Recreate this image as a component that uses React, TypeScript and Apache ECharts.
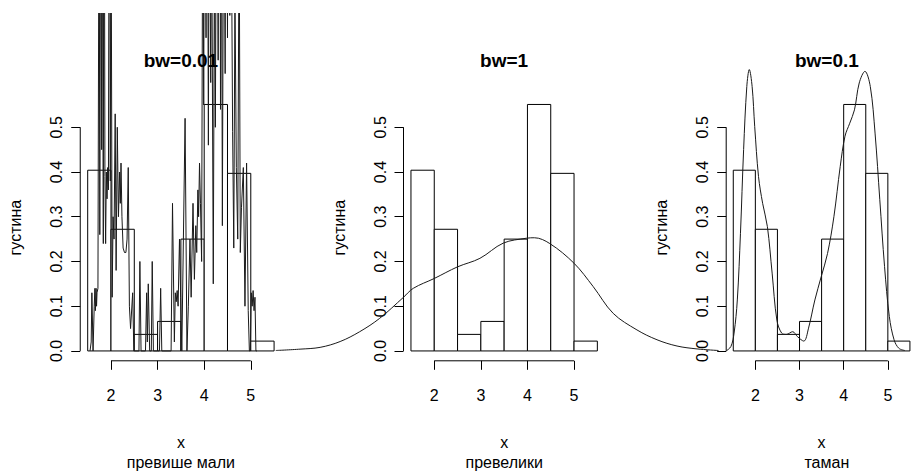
import React, { useEffect, useRef } from "react";
import * as echarts from "echarts";

// ---------- data ----------
const breaks = [1.5, 2.0, 2.5, 3.0, 3.5, 4.0, 4.5, 5.0, 5.5];
const histDensity = [0.404, 0.272, 0.037, 0.066, 0.25, 0.551, 0.397, 0.022];
const xTicks = [2, 3, 4, 5];
const yTicks = [0, 0.1, 0.2, 0.3, 0.4, 0.5];
const panelTitles = ["bw=0.01", "bw=1", "bw=0.1"];
const panelSubtitles = ["превише мали", "превелики", "таман"];
const xName = "x";
const yName = "густина";

// density, bw = 0.01 (peaks above ~0.75 run off the top of the picture)
const densityBw001: [number, number][] = [
  [1.55, 0.0], [1.575, 0.02], [1.59, 0.13], [1.615, 0.0], [1.625, 0.0], [1.64, 0.1],
  [1.655, 0.14], [1.665, 0.09], [1.68, 0.14], [1.69, 0.1], [1.70, 0.13], [1.72, 0.14],
  [1.745, 1.2], [1.76, 0.26], [1.78, 1.3], [1.80, 0.45], [1.815, 1.1], [1.835, 0.24],
  [1.85, 1.5], [1.87, 0.39], [1.885, 0.24], [1.90, 0.4], [1.915, 0.34], [1.93, 0.41],
  [1.945, 0.36], [1.965, 1.4], [1.985, 0.38], [2.0, 1.1], [2.025, 0.12], [2.045, 0.3],
  [2.065, 0.25], [2.09, 0.53], [2.11, 0.18], [2.135, 0.5], [2.16, 0.3], [2.185, 0.4],
  [2.2, 0.33], [2.215, 0.42], [2.235, 0.3], [2.26, 0.23], [2.29, 0.22], [2.32, 0.22],
  [2.345, 0.25], [2.37, 0.41], [2.395, 0.1], [2.42, 0.05], [2.465, 0.13], [2.49, 0.0],
  [2.6, 0.0], [2.62, 0.2], [2.645, 0.0], [2.74, 0.0], [2.765, 0.13], [2.78, 0.02],
  [2.8, 0.15], [2.83, 0.0], [2.865, 0.0], [2.885, 0.2], [2.91, 0.0], [3.04, 0.0],
  [3.066, 0.14], [3.09, 0.0], [3.29, 0.0], [3.32, 0.33], [3.36, 0.02], [3.38, 0.13],
  [3.4, 0.11], [3.42, 0.135], [3.44, 0.1], [3.47, 0.25], [3.495, 0.12], [3.52, 0.0],
  [3.59, 0.52], [3.63, 0.0], [3.66, 0.1], [3.695, 0.25], [3.72, 0.12], [3.76, 0.33],
  [3.79, 0.16], [3.82, 0.28], [3.84, 0.22], [3.865, 0.36], [3.88, 0.3], [3.9, 0.42],
  [3.92, 0.33], [3.945, 0.2], [3.97, 1.1], [3.99, 0.55], [4.01, 1.3], [4.04, 0.7],
  [4.06, 1.5], [4.09, 0.46], [4.11, 1.2], [4.14, 0.6], [4.16, 1.0], [4.195, 0.15],
  [4.22, 0.9], [4.24, 0.5], [4.27, 1.3], [4.3, 0.65], [4.33, 1.6], [4.35, 0.54],
  [4.37, 1.1], [4.39, 0.28], [4.42, 1.2], [4.45, 0.62], [4.47, 1.4], [4.5, 0.7],
  [4.52, 1.5], [4.55, 0.75], [4.58, 1.0], [4.61, 0.49], [4.635, 0.23], [4.66, 0.8],
  [4.69, 0.41], [4.72, 0.25], [4.75, 1.0], [4.775, 0.22], [4.8, 0.32], [4.84, 0.41],
  [4.875, 0.1], [4.91, 0.42], [4.945, 0.09], [4.97, 0.0], [4.99, 0.0], [5.01, 0.13],
  [5.03, 0.1], [5.05, 0.135], [5.07, 0.09], [5.09, 0.12], [5.11, 0.0], [5.13, 0.0],
];

// density, bw = 1
const densityBw1: [number, number][] = [
  [-1.4, 0.001], [-0.88, 0.004], [-0.45, 0.008], [-0.02, 0.021], [0.4, 0.043],
  [0.83, 0.073], [1.34, 0.12], [1.55, 0.14], [2.0, 0.162], [2.5, 0.188], [2.98, 0.207],
  [3.48, 0.241], [3.98, 0.252], [4.15, 0.253], [4.48, 0.24], [5.0, 0.196], [5.41, 0.144],
  [5.84, 0.084], [6.35, 0.047], [6.78, 0.025], [7.21, 0.011], [7.64, 0.0045], [8.1, 0.001],
];

// density, bw = 0.1
const densityBw01: [number, number][] = [
  [1.357, 0.0], [1.464, 0.01], [1.535, 0.04], [1.608, 0.114], [1.679, 0.263], [1.75, 0.45],
  [1.822, 0.591], [1.878, 0.629], [1.942, 0.591], [2.0, 0.502], [2.086, 0.39], [2.179, 0.33],
  [2.286, 0.278], [2.393, 0.174], [2.5, 0.069], [2.607, 0.04], [2.714, 0.037], [2.857, 0.043],
  [2.964, 0.032], [3.107, 0.022], [3.214, 0.051], [3.357, 0.114], [3.5, 0.166], [3.643, 0.218],
  [3.786, 0.3], [3.928, 0.412], [4.036, 0.48], [4.143, 0.509], [4.25, 0.539], [4.357, 0.599],
  [4.486, 0.625], [4.607, 0.591], [4.714, 0.487], [4.821, 0.338], [4.928, 0.189], [5.036, 0.077],
  [5.143, 0.025], [5.25, 0.006], [5.386, 0.001],
];

const densities = [densityBw001, densityBw1, densityBw01];
const smoothFlags = [false, 0.35, 0.35];

// ---------- layout ----------
const FONT = "'Liberation Sans', Arial, sans-serif";
const TOP_OFFSET = 13;
const gridLefts = [80.24, 403.5, 726.2];
const gridTop = 81.6;
const gridWidth = 201.3;
const gridHeight = 266.2;

export default function App() {
  const ref = useRef<HTMLDivElement>(null);

  useEffect(() => {
    if (!ref.current) return;
    const chart = echarts.init(ref.current, undefined, { renderer: "svg" });

    const xPad = (breaks[breaks.length - 1] - breaks[0]) * 0.04;
    const xMin = breaks[0] - xPad;
    const xMax = breaks[breaks.length - 1] + xPad;
    const maxD = Math.max(...histDensity);
    const yMin = -maxD * 0.04;
    const yMax = maxD * 1.04;
    const pxPerUnit = gridWidth / (xMax - xMin);

    const grids: any[] = [];
    const xAxes: any[] = [];
    const yAxes: any[] = [];
    const series: any[] = [];
    const graphics: any[] = [];

    const textStyle = { fontSize: 16, color: "#000", fontFamily: FONT };

    for (let i = 0; i < 3; i++) {
      grids.push({ left: gridLefts[i], top: gridTop, width: gridWidth, height: gridHeight });
      xAxes.push({
        gridIndex: i,
        type: "value",
        min: xMin,
        max: xMax,
        axisLine: { show: false, onZero: false },
        splitLine: { show: false },
        axisTick: { show: true, customValues: xTicks, length: 9, lineStyle: { color: "#000", width: 1 } },
        axisLabel: { customValues: xTicks, margin: 27, ...textStyle, formatter: (v: number) => String(v) },
        name: xName,
        nameLocation: "middle",
        nameGap: 74,
        nameTextStyle: textStyle,
      });
      yAxes.push({
        gridIndex: i,
        type: "value",
        min: yMin,
        max: yMax,
        axisLine: { show: false, onZero: false },
        splitLine: { show: false },
        axisTick: { show: true, customValues: yTicks, length: 9, lineStyle: { color: "#000", width: 1 } },
        axisLabel: {
          customValues: yTicks,
          rotate: 90,
          margin: 15.5,
          ...textStyle,
          formatter: (v: number) => v.toFixed(1),
        },
        name: yName,
        nameLocation: "middle",
        nameGap: 56.4,
        nameTextStyle: textStyle,
      });

      // histogram
      series.push({
        type: "custom",
        xAxisIndex: i,
        yAxisIndex: i,
        z: 2,
        silent: true,
        encode: { x: [0, 1], y: 2 },
        data: histDensity.map((d, j) => [breaks[j], breaks[j + 1], d]),
        renderItem: (_p: any, api: any) => {
          const p0 = api.coord([api.value(0), api.value(2)]);
          const p1 = api.coord([api.value(1), 0]);
          return {
            type: "rect",
            shape: { x: p0[0], y: p0[1], width: p1[0] - p0[0], height: p1[1] - p0[1] },
            style: { fill: "#fff", stroke: "#000", lineWidth: 1 },
          };
        },
      });

      // axis lines (R style: only across the tick range)
      series.push({
        type: "line",
        xAxisIndex: i,
        yAxisIndex: i,
        data: [[xTicks[0], yMin], [xTicks[xTicks.length - 1], yMin]],
        symbol: "none",
        clip: false,
        silent: true,
        z: 3,
        lineStyle: { color: "#000", width: 1 },
      });
      series.push({
        type: "line",
        xAxisIndex: i,
        yAxisIndex: i,
        data: [[xMin, yTicks[0]], [xMin, yTicks[yTicks.length - 1]]],
        symbol: "none",
        clip: false,
        silent: true,
        z: 3,
        lineStyle: { color: "#000", width: 1 },
      });

      const cx = gridLefts[i] + gridWidth / 2;
      graphics.push({
        type: "text",
        x: cx,
        y: 60.2 - TOP_OFFSET,
        z: 10,
        style: { text: panelTitles[i], fill: "#000", font: `bold 19px ${FONT}`, align: "center", verticalAlign: "middle" },
      });
      graphics.push({
        type: "text",
        x: cx,
        y: 462.5 - TOP_OFFSET,
        z: 10,
        style: { text: panelSubtitles[i], fill: "#000", font: `16px ${FONT}`, align: "center", verticalAlign: "middle" },
      });
    }

    // wide, invisible coordinate systems (same scale as each panel) so that the
    // density curves may run past the panel edges, as in the original
    for (let i = 0; i < 3; i++) {
      const xs = densities[i].map((p) => p[0]);
      const wMin = Math.min(xMin, Math.floor(Math.min(...xs) * 2) / 2);
      const wMax = Math.max(xMax, Math.ceil(Math.max(...xs) * 2) / 2);
      const gi = grids.length;
      grids.push({
        left: gridLefts[i] + (wMin - xMin) * pxPerUnit,
        top: gridTop,
        width: (wMax - wMin) * pxPerUnit,
        height: gridHeight,
      });
      xAxes.push({ gridIndex: gi, type: "value", min: wMin, max: wMax, show: false });
      yAxes.push({ gridIndex: gi, type: "value", min: yMin, max: yMax, show: false });
      series.push({
        type: "line",
        xAxisIndex: gi,
        yAxisIndex: gi,
        data: densities[i],
        symbol: "none",
        showSymbol: false,
        smooth: smoothFlags[i],
        clip: false,
        silent: true,
        z: 5,
        lineStyle: { color: "#1a1a1a", width: 1 },
      });
    }

    chart.setOption({
      animation: false,
      backgroundColor: "#fff",
      grid: grids,
      xAxis: xAxes,
      yAxis: yAxes,
      series,
      graphic: graphics,
    });

    return () => chart.dispose();
  }, []);

  return (
    <div
      style={{ position: "absolute", left: 0, top: 0, width: 917, height: 473, background: "#fff", overflow: "hidden" }}
    >
      <div
        ref={ref}
        style={{ position: "absolute", left: 0, top: TOP_OFFSET, width: 917, height: 473 - TOP_OFFSET }}
      />
    </div>
  );
}
